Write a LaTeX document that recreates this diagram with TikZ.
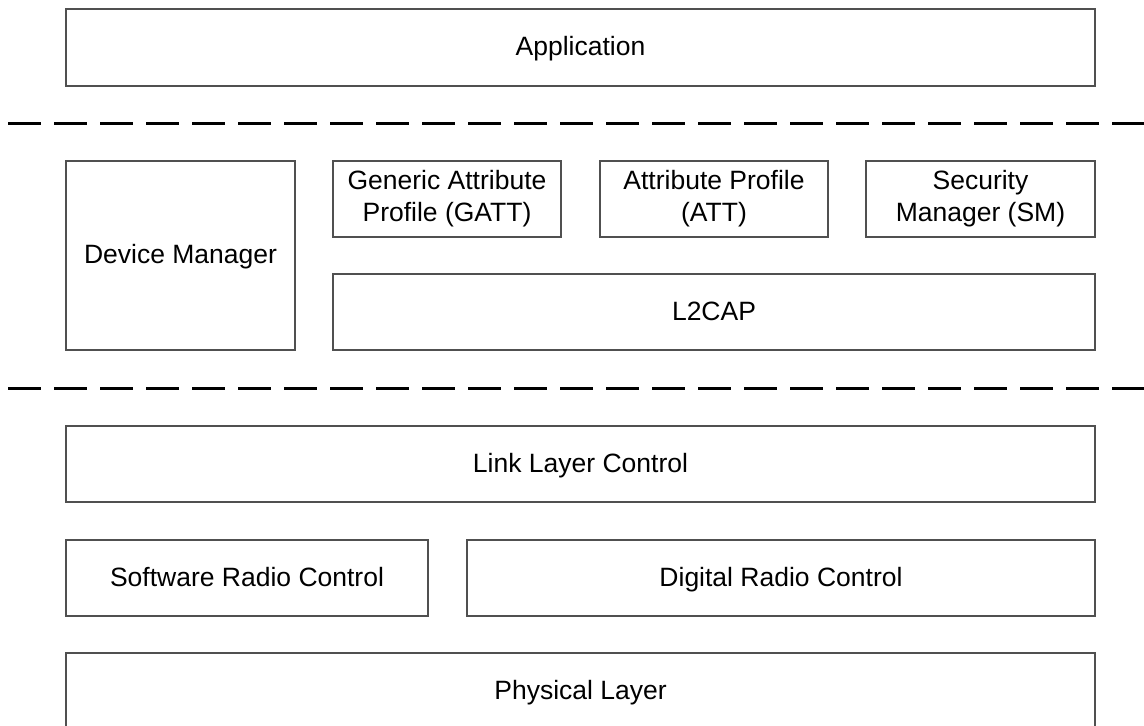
\documentclass[tikz,border=0pt]{standalone}
\usepackage{fontspec}
\setmainfont{Liberation Sans}
\definecolor{boxline}{HTML}{505050}
\begin{document}
\begin{tikzpicture}[x=1pt,y=-1pt,
  box/.style={draw=boxline,line width=2pt,rectangle,inner sep=0pt,align=center,
    font=\fontsize{26.5}{32}\selectfont,text=black,text height=20pt,text depth=4pt},
  twoline/.style={box,text height={},text depth={}},
  sep/.style={draw=black,line width=3pt,dash pattern=on 33pt off 13pt}]
\useasboundingbox (0,0) rectangle (1144,726);
\clip (0,0) rectangle (1144,726);
\node[box,minimum width=1029pt,minimum height=77pt] (app) at (580.5,47.5) {Application};
\coordinate (s1a) at (8,123);
\coordinate (s1b) at (1150,123);
\draw[sep] (s1a) -- (s1b);
\node[box,minimum width=229pt,minimum height=189pt] (dm) at (180.5,255.5) {Device Manager};
\node[twoline,minimum width=228pt,minimum height=76pt] (gatt) at (447,199) {Generic Attribute\\Profile (GATT)};
\node[twoline,minimum width=228pt,minimum height=76pt] (att) at (714,199) {Attribute Profile\\(ATT)};
\node[twoline,minimum width=229pt,minimum height=76pt] (sm) at (980.5,199) {Security\\Manager (SM)};
\node[box,minimum width=762pt,minimum height=76pt] (l2cap) at (714,312) {L2CAP};
\coordinate (s2a) at (8,388);
\coordinate (s2b) at (1150,388);
\draw[sep] (s2a) -- (s2b);
\node[box,minimum width=1029pt,minimum height=76pt] (llc) at (580.5,464) {Link Layer Control};
\node[box,minimum width=362pt,minimum height=76pt] (src) at (247,578) {Software Radio Control};
\node[box,minimum width=628pt,minimum height=76pt] (drc) at (781,578) {Digital Radio Control};
\node[box,minimum width=1029pt,minimum height=77pt] (phy) at (580.5,691.5) {Physical Layer};
\end{tikzpicture}
\end{document}
